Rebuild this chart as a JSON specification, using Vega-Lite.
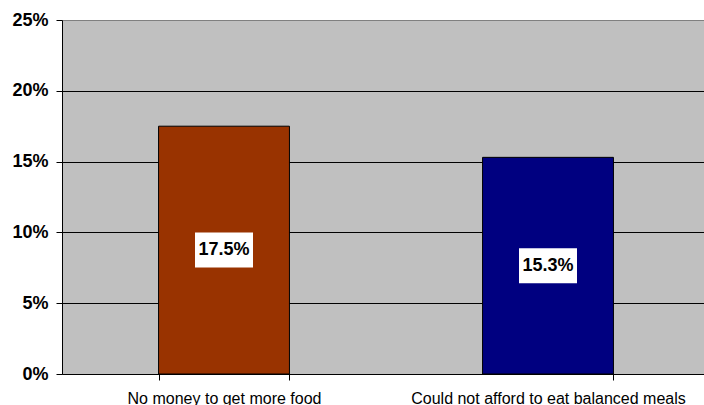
{
  "$schema": "https://vega.github.io/schema/vega-lite/v6.json",
  "width": 642,
  "height": 354,
  "autosize": "none",
  "padding": {"left": 62, "top": 20, "right": 0, "bottom": 31},
  "background": "white",
  "view": {"fill": "#C0C0C0", "stroke": null},
  "config": {"font": "Liberation Sans"},
  "data": {
    "values": [
      {"category": "No money to get more food", "value": 0.175},
      {"category": "Could not afford to eat balanced meals", "value": 0.153}
    ]
  },
  "transform": [{"calculate": "datum.value / 2", "as": "mid"}],
  "encoding": {
    "x": {
      "field": "category",
      "type": "nominal",
      "sort": null,
      "scale": {"range": [0, 648], "paddingInner": 0.596, "paddingOuter": 0.298},
      "axis": {
        "title": null,
        "labelAngle": 0,
        "tickBand": "extent",
        "domainColor": "#000000",
        "tickColor": "#000000",
        "tickSize": 6,
        "labelFont": "Liberation Sans",
        "labelFontSize": 16,
        "labelColor": "#000000",
        "labelPadding": 10,
        "labelLimit": 0,
        "labelOverlap": false
      }
    }
  },
  "layer": [
    {
      "mark": {"type": "bar", "stroke": "#000000", "strokeWidth": 1},
      "encoding": {
        "y": {
          "field": "value",
          "type": "quantitative",
          "scale": {"domain": [0, 0.25], "nice": false},
          "axis": {
            "title": null,
            "values": [0, 0.05, 0.1, 0.15, 0.2, 0.25],
            "format": ".0%",
            "grid": true,
            "gridColor": {"condition": {"test": "datum.value >= 0.249", "value": "#808080"}, "value": "#000000"},
            "gridWidth": 1,
            "gridOpacity": 1,
            "domainColor": "#000000",
            "tickColor": "#000000",
            "tickSize": 6,
            "labelFont": "Liberation Sans",
            "labelFontSize": 18,
            "labelFontWeight": "bold",
            "labelColor": "#000000",
            "labelPadding": 8
          }
        },
        "color": {
          "field": "category",
          "type": "nominal",
          "sort": null,
          "scale": {"range": ["#993300", "#000080"]},
          "legend": null
        }
      }
    },
    {
      "mark": {"type": "point", "shape": "M-1,-0.6034H1V0.6034H-1Z", "filled": true, "fill": "#FFFFFF", "opacity": 1, "size": 3364, "strokeWidth": 0},
      "encoding": {
        "y": {"field": "mid", "type": "quantitative"}
      }
    },
    {
      "mark": {"type": "text", "font": "Liberation Sans", "fontSize": 18, "fontWeight": "bold", "color": "#000000", "baseline": "middle", "align": "center"},
      "encoding": {
        "y": {"field": "mid", "type": "quantitative"},
        "text": {"field": "value", "type": "quantitative", "format": ".1%"}
      }
    }
  ]
}
